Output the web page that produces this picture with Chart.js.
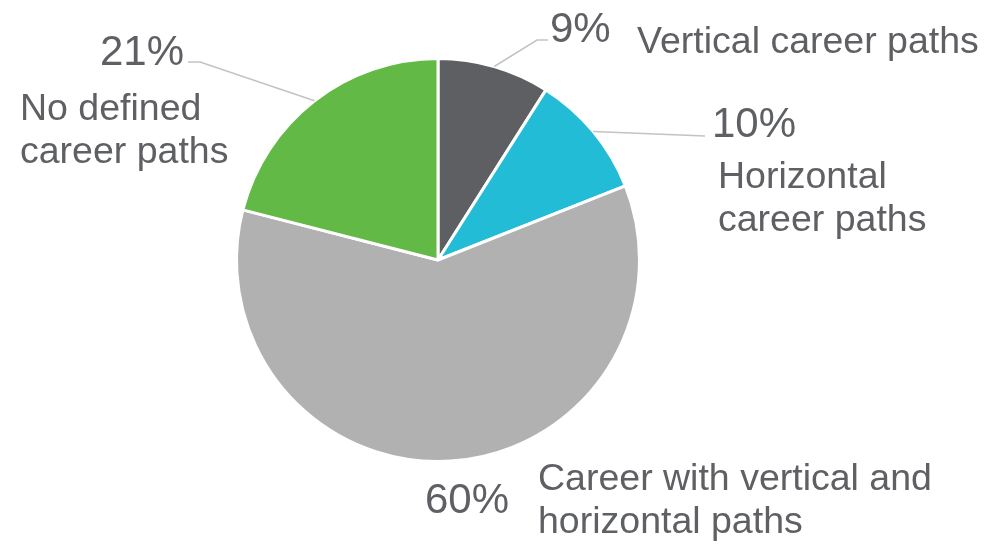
<!DOCTYPE html>
<html>
<head>
<meta charset="utf-8">
<style>
  html, body { margin: 0; padding: 0; background: #fff; }
  #wrap { width: 986px; height: 554px; }
</style>
<script src="https://cdn.jsdelivr.net/npm/chart.js@4/dist/chart.umd.min.js"></script>
</head>
<body>
<div id="wrap"><canvas id="chart-career-paths"></canvas></div>
<script>
// Career path types
const categories = [
  ["Vertical career paths"],
  ["Horizontal", "career paths"],
  ["Career with vertical and", "horizontal paths"],
  ["No defined", "career paths"],
];
const shares = [9, 10, 60, 21];
const sliceColors = ["#5e5f63", "#23bcd6", "#b1b1b1", "#62b946"];

// label placement, offsets in px from the pie centre
const labelLayout = [
  { pct: [112, -218], text: [199, -207], line: [[99, -220], [110, -220]] },
  { pct: [274, -123], text: [280, -72], line: [[267, -124]] },
  { pct: [-13, 253], text: [100, 230], line: [] },
  { pct: [-338, -195], text: [-418, -140], line: [[-238, -198], [-250, -198]] },
];

const textColor = "#5f6064";
const fontFamily = "'Liberation Sans', Arial, sans-serif";

const pieLabels = {
  id: "pieLabels",
  afterDatasetsDraw(chart) {
    const ctx = chart.ctx;
    const arcs = chart.getDatasetMeta(0).data;
    ctx.save();
    arcs.forEach((arc, i) => {
      const lay = labelLayout[i];
      const { x, y, startAngle, endAngle, outerRadius } = arc.getProps(
        ["x", "y", "startAngle", "endAngle", "outerRadius"], true);
      const mid = (startAngle + endAngle) / 2;

      // leader line from the slice edge
      if (lay.line.length) {
        ctx.beginPath();
        ctx.strokeStyle = "#c3c3c3";
        ctx.lineWidth = 1.5;
        ctx.moveTo(x + Math.cos(mid) * outerRadius, y + Math.sin(mid) * outerRadius);
        lay.line.forEach(p => ctx.lineTo(x + p[0], y + p[1]));
        ctx.stroke();
      }

      ctx.fillStyle = textColor;
      ctx.textAlign = "left";
      ctx.textBaseline = "alphabetic";
      ctx.font = "42px " + fontFamily;
      ctx.fillText(shares[i] + "%", x + lay.pct[0], y + lay.pct[1]);

      ctx.font = "37.5px " + fontFamily;
      categories[i].forEach((line, k) => {
        ctx.fillText(line, x + lay.text[0], y + lay.text[1] + k * 43);
      });
    });
    ctx.restore();
  },
};

new Chart(document.getElementById("chart-career-paths"), {
  type: "pie",
  data: {
    labels: categories.map(c => c.join(" ")),
    datasets: [
      {
        data: shares,
        backgroundColor: sliceColors,
        borderColor: "#ffffff",
        borderWidth: 3,
      },
    ],
  },
  options: {
    responsive: true,
    maintainAspectRatio: false,
    animation: false,
    layout: {
      padding: { left: 235, right: 345, top: 57, bottom: 91 },
    },
    plugins: {
      legend: { display: false },
      tooltip: { enabled: false },
    },
  },
  plugins: [pieLabels],
});
</script>
</body>
</html>
